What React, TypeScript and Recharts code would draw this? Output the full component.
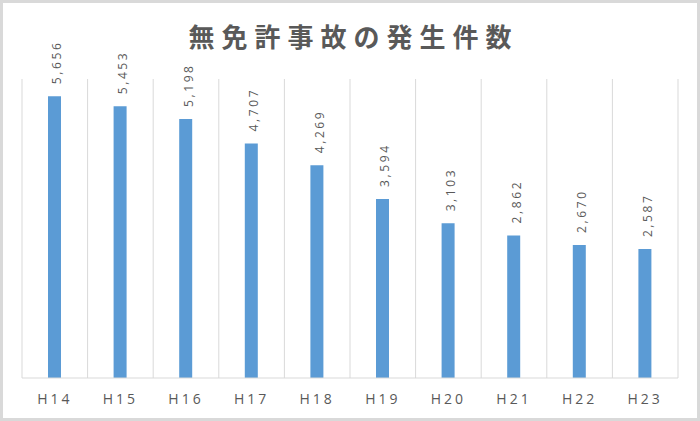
import React from "react";
import { BarChart, Bar, XAxis, YAxis, CartesianGrid, LabelList } from "recharts";

const years = ["H14", "H15", "H16", "H17", "H18", "H19", "H20", "H21", "H22", "H23"];
const accidents = [5656, 5453, 5198, 4707, 4269, 3594, 3103, 2862, 2670, 2587];

const data = years.map((name, i) => ({ name, value: accidents[i] }));

const grey = "#595959";

// vertical grid lines sit on the category boundaries, not the centres
const boundaryLines = ({ offset }: any) =>
  [...years, ""].map((_, i) => offset.left + (i * offset.width) / years.length);

const ValueLabel = (props: any) => {
  const { x, y, width, value } = props;
  const cx = x + width / 2;
  const cy = y - 12;
  return (
    <text
      x={cx}
      y={cy}
      dy={7}
      transform={`rotate(-90 ${cx} ${cy})`}
      textAnchor="start"
      fill={grey}
      fontSize={12}
      fontFamily="'Open Sans', sans-serif"
      style={{ letterSpacing: "2.6px" }}
    >
      {Number(value).toLocaleString("en-US")}
    </text>
  );
};

export default function App() {
  return (
    <div
      style={{
        position: "relative",
        width: 700,
        height: 421,
        boxSizing: "border-box",
        border: "3px solid #d9d9d9",
        background: "#fff",
        fontFamily: "'Noto Sans CJK JP', 'Noto Sans', sans-serif",
      }}
    >
      <style>{`body{margin:0}`}</style>
      <div
        style={{
          position: "absolute",
          top: 14,
          left: 0,
          width: 694,
          textAlign: "center",
          fontSize: 26,
          fontWeight: 700,
          color: grey,
          letterSpacing: "7px",
          paddingLeft: 7,
          boxSizing: "border-box",
        }}
      >
        無免許事故の発生件数
      </div>
      <div style={{ position: "absolute", top: -3, left: -3 }}>
        <BarChart
          width={700}
          height={421}
          data={data}
          margin={{ top: 79, right: 22, left: 22, bottom: 0 }}
        >
          <CartesianGrid
            horizontal={false}
            stroke="#d9d9d9"
            verticalCoordinatesGenerator={boundaryLines}
          />
          <XAxis
            dataKey="name"
            height={43}
            tickLine={false}
            axisLine={{ stroke: "#d9d9d9" }}
            tick={{ fill: grey, fontSize: 14, letterSpacing: "3px", fontFamily: "'Open Sans', sans-serif" }}
            tickMargin={10}
          />
          <YAxis hide domain={[0, 6000]} />
          <Bar dataKey="value" fill="#5b9bd5" barSize={13} isAnimationActive={false}>
            <LabelList dataKey="value" content={<ValueLabel />} />
          </Bar>
        </BarChart>
      </div>
    </div>
  );
}
